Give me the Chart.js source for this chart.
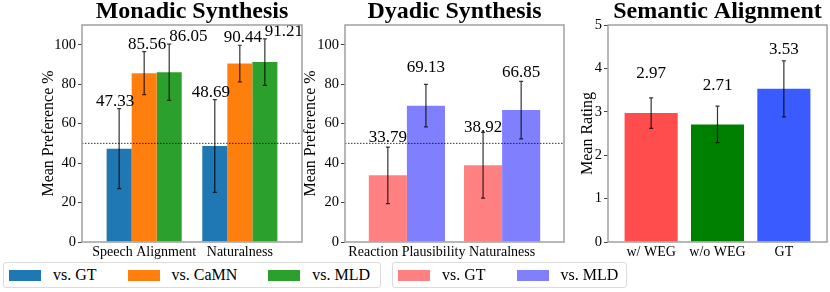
<!DOCTYPE html>
<html>
<head>
<meta charset="utf-8">
<script src="https://cdn.jsdelivr.net/npm/chart.js@4.4.1/dist/chart.umd.min.js"></script>
<style>
  body { margin: 0; background: #fff; font-family: 'Liberation Serif', 'Times New Roman', serif; }
  #page { position: relative; width: 830px; height: 292px; overflow: hidden; }
  .panel { position: absolute; top: 0; height: 262px; }
  .legend { position: absolute; top: 262px; height: 26px; box-sizing: border-box; border: 1px solid #dcdcdc; border-radius: 3px;
            display: flex; align-items: center; padding-left: 5px; font-size: 16px; color: #000; }
  .legend .item { display: flex; align-items: center; margin-right: 31px; white-space: nowrap; }
  .legend .item:last-child { margin-right: 0; }
  .legend .patch { display: inline-block; width: 32px; height: 11px; margin-right: 12px; }
</style>
</head>
<body>
<div id="page">
  <div class="panel" style="left:41px;width:264px"><canvas id="monadic"></canvas></div>
  <div class="panel" style="left:303px;width:264px"><canvas id="dyadic"></canvas></div>
  <div class="panel" style="left:580px;width:250px"><canvas id="semantic"></canvas></div>
  <div class="legend" id="legMonadic" style="left:3px;width:378px"></div>
  <div class="legend" id="legDyadic" style="left:392px;width:235px"></div>
</div>
<script>
// datos
const monadicCats = ['Speech Alignment', 'Naturalness'];
const monadicVsGT = [47.33, 48.69];
const monadicVsGTErr = [20.3, 23.5];
const monadicVsCaMN = [85.56, 90.44];
const monadicVsCaMNErr = [10.9, 9.3];
const monadicVsMLD = [86.05, 91.21];
const monadicVsMLDErr = [14.3, 11.8];

const dyadicCats = ['Reaction Plausibility', 'Naturalness'];
const dyadicVsGT = [33.79, 38.92];
const dyadicVsGTErr = [14.3, 16.7];
const dyadicVsMLD = [69.13, 66.85];
const dyadicVsMLDErr = [10.8, 14.6];

const semanticCats = ['w/ WEG', 'w/o WEG', 'GT'];
const semanticMeans = [2.97, 2.71, 3.53];
const semanticErr = [0.35, 0.42, 0.645];

const prefTicks = [0, 20, 40, 60, 80, 100];
const ratingTicks = [0, 1, 2, 3, 4, 5];
const chanceLevel = 50;

Chart.defaults.font.family = "'Liberation Serif', 'Times New Roman', serif";
Chart.defaults.color = '#000';
Chart.defaults.animation = false;

const toPoints = vals => vals.map((v, i) => ({ x: i, y: v }));

// eje x lineal para que las barras caigan donde en la figura original
function indexAxis(cats) {
    return {
        type: 'linear',
        min: -0.65,
        max: cats.length - 1 + 0.65,
        offset: false,
        grid: { display: false, drawTicks: false },
        border: { display: false },
        afterBuildTicks: s => { s.ticks = cats.map((c, i) => ({ value: i })); },
        ticks: { callback: v => cats[v], font: { size: 14 }, padding: 2, maxRotation: 0, autoSkip: false },
        afterFit: s => { s.height = 20; }
    };
}

function valueAxis(ticks, max, title, width) {
    return {
        min: 0,
        max: max,
        afterBuildTicks: s => { s.ticks = ticks.map(v => ({ value: v })); },
        grid: { drawOnChartArea: false, tickLength: 4, color: '#444' },
        border: { display: false },
        ticks: { font: { size: 14.5 }, padding: 2 },
        title: { display: true, text: title, font: { size: 16, lineHeight: 1 }, padding: 0 },
        afterFit: s => { s.width = width; }
    };
}

// barras de error, etiquetas, línea de referencia y marco
const barExtras = {
    id: 'barExtras',
    afterDatasetsDraw(chart, args, opts) {
        const { ctx, chartArea: a } = chart;
        const y = chart.scales.y;
        ctx.save();
        if (opts.refLine != null) {
            const py = y.getPixelForValue(opts.refLine);
            ctx.strokeStyle = '#000';
            ctx.lineWidth = 0.8;
            ctx.setLineDash([1.5, 1.5]);
            ctx.beginPath();
            ctx.moveTo(a.left, py);
            ctx.lineTo(a.right, py);
            ctx.stroke();
            ctx.setLineDash([]);
        }
        chart.data.datasets.forEach((ds, di) => {
            const meta = chart.getDatasetMeta(di);
            meta.data.forEach((bar, i) => {
                const v = ds.data[i].y;
                const e = ds.errors[i];
                const top = y.getPixelForValue(v + e);
                const bot = y.getPixelForValue(v - e);
                ctx.strokeStyle = 'rgba(0,0,0,0.8)';
                ctx.lineWidth = 1.2;
                ctx.beginPath();
                ctx.moveTo(bar.x, top); ctx.lineTo(bar.x, bot);
                ctx.moveTo(bar.x - 2, top); ctx.lineTo(bar.x + 2, top);
                ctx.moveTo(bar.x - 2, bot); ctx.lineTo(bar.x + 2, bot);
                ctx.stroke();

                const ly = opts.aboveError ? top - 3 : y.getPixelForValue(v + opts.lift);
                ctx.fillStyle = '#000';
                ctx.font = "17px 'Liberation Serif'";
                ctx.textAlign = (opts.align || [])[di] || 'center';
                ctx.textBaseline = 'alphabetic';
                ctx.fillText(v.toFixed(2), bar.x + ((opts.shift || [])[di] || 0), ly);
            });
        });
        ctx.strokeStyle = '#a0a0a0';
        ctx.lineWidth = 1.5;
        ctx.strokeRect(a.left, a.top, a.right - a.left, a.bottom - a.top);
        ctx.restore();
    }
};

// leyenda en HTML generada con las etiquetas de Chart.js
const htmlLegend = {
    id: 'htmlLegend',
    afterUpdate(chart, args, opts) {
        const box = document.getElementById(opts.containerID);
        if (!box) return;
        box.innerHTML = '';
        const items = chart.options.plugins.legend.labels.generateLabels(chart);
        items.forEach(item => {
            const el = document.createElement('div');
            el.className = 'item';
            const patch = document.createElement('span');
            patch.className = 'patch';
            patch.style.background = item.fillStyle;
            const txt = document.createElement('span');
            txt.textContent = item.text;
            el.appendChild(patch);
            el.appendChild(txt);
            box.appendChild(el);
        });
    }
};

function titleOpts(text) {
    return {
        display: true,
        text: text,
        fullSize: false,
        font: { size: 24, weight: 'bold', lineHeight: 1 },
        padding: { top: 0, bottom: 1 }
    };
}

new Chart(document.getElementById('monadic'), {
    type: 'bar',
    data: {
        datasets: [
            { label: 'vs. GT', data: toPoints(monadicVsGT), errors: monadicVsGTErr, backgroundColor: '#1f77b4' },
            { label: 'vs. CaMN', data: toPoints(monadicVsCaMN), errors: monadicVsCaMNErr, backgroundColor: '#ff7f0e' },
            { label: 'vs. MLD', data: toPoints(monadicVsMLD), errors: monadicVsMLDErr, backgroundColor: '#2ca02c' }
        ]
    },
    options: {
        responsive: true,
        maintainAspectRatio: false,
        layout: { padding: { right: 3 } },
        datasets: { bar: { categoryPercentage: 0.785, barPercentage: 1, borderWidth: 0 } },
        scales: {
            x: indexAxis(monadicCats),
            y: valueAxis(prefTicks, 110, 'Mean Preference %', 41)
        },
        plugins: {
            title: titleOpts('Monadic Synthesis'),
            legend: { display: false },
            tooltip: { enabled: false },
            htmlLegend: { containerID: 'legMonadic' },
            barExtras: { refLine: chanceLevel, aboveError: true, align: ['center', 'center', 'left'], shift: [-4, 3, 0] }
        }
    },
    plugins: [barExtras, htmlLegend]
});

new Chart(document.getElementById('dyadic'), {
    type: 'bar',
    data: {
        datasets: [
            { label: 'vs. GT', data: toPoints(dyadicVsGT), errors: dyadicVsGTErr, backgroundColor: '#ff8080' },
            { label: 'vs. MLD', data: toPoints(dyadicVsMLD), errors: dyadicVsMLDErr, backgroundColor: '#8080ff' }
        ]
    },
    options: {
        responsive: true,
        maintainAspectRatio: false,
        layout: { padding: { right: 3 } },
        datasets: { bar: { categoryPercentage: 0.8, barPercentage: 1, borderWidth: 0 } },
        scales: {
            x: indexAxis(dyadicCats),
            y: valueAxis(prefTicks, 110, 'Mean Preference %', 42)
        },
        plugins: {
            title: titleOpts('Dyadic Synthesis'),
            legend: { display: false },
            tooltip: { enabled: false },
            htmlLegend: { containerID: 'legDyadic' },
            barExtras: { refLine: chanceLevel, lift: 17 }
        }
    },
    plugins: [barExtras, htmlLegend]
});

new Chart(document.getElementById('semantic'), {
    type: 'bar',
    data: {
        datasets: [
            { label: 'Mean Rating', data: toPoints(semanticMeans), errors: semanticErr,
              backgroundColor: ['#ff4d4d', '#008000', '#3a5bff'] }
        ]
    },
    options: {
        responsive: true,
        maintainAspectRatio: false,
        layout: { padding: { right: 3 } },
        datasets: { bar: { categoryPercentage: 0.8, barPercentage: 1, borderWidth: 0 } },
        scales: {
            x: indexAxis(semanticCats),
            y: valueAxis(ratingTicks, 5, 'Mean Rating', 28)
        },
        plugins: {
            title: titleOpts('Semantic Alignment'),
            legend: { display: false },
            tooltip: { enabled: false },
            barExtras: { lift: 0.8 }
        }
    },
    plugins: [barExtras]
});
</script>
</body>
</html>
